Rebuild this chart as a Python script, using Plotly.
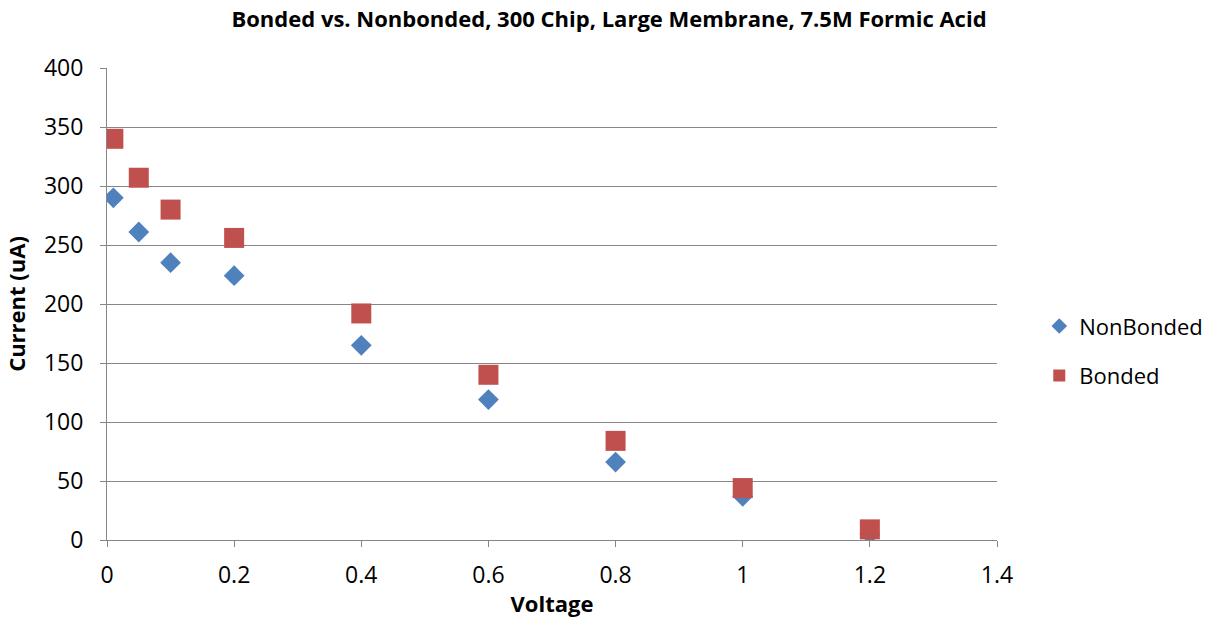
import plotly.graph_objects as go

voltage = [0.01, 0.05, 0.1, 0.2, 0.4, 0.6, 0.8, 1.0, 1.2]
nonbonded = [290, 261, 235, 224, 165, 119, 66, 37, 5]
bonded = [340, 307, 280, 256, 192, 140, 84, 44, 9]

FONT = "Open Sans"

fig = go.Figure()
fig.add_trace(go.Scatter(x=voltage, y=nonbonded, mode="markers", name="NonBonded",
                         legendgroup="a",
                         marker=dict(symbol="diamond", size=16, color="#4F81BD")))
fig.add_trace(go.Scatter(x=voltage, y=bonded, mode="markers", name="Bonded",
                         legendgroup="b",
                         marker=dict(symbol="square", size=20, color="#C0504D")))

fig.update_layout(
    width=1206, height=629,
    margin=dict(l=107, r=209, t=68, b=89, autoexpand=False),
    paper_bgcolor="white", plot_bgcolor="white",
    font=dict(family=FONT, size=21, color="black"),
    title=dict(text="<b>Bonded vs. Nonbonded, 300 Chip, Large Membrane, 7.5M Formic Acid</b>",
               x=0.505, xref="container", xanchor="center", y=0.97, yanchor="middle",
               font=dict(family=FONT, size=22, color="black")),
    legend=dict(x=1.0475, y=0.40, xanchor="left", yanchor="middle",
                font=dict(family=FONT, size=22), itemsizing="constant",
                tracegroupgap=18),
    showlegend=True,
)
fig.update_xaxes(range=[0, 1.4], tickvals=[0, 0.2, 0.4, 0.6, 0.8, 1.0, 1.2, 1.4],
                 ticktext=["0", "0.2", "0.4", "0.6", "0.8", "1", "1.2", "1.4"],
                 showgrid=False, zeroline=False, showline=True, linecolor="#868686", linewidth=1,
                 ticks="outside", ticklen=6, tickcolor="#868686", automargin=False,
                 ticklabelstandoff=8,
                 title=dict(text="<b>Voltage</b>", font=dict(family=FONT, size=22), standoff=8),
                 tickfont=dict(family=FONT, size=23))
fig.update_yaxes(range=[0, 400], dtick=50, showgrid=True, gridcolor="#868686", gridwidth=1,
                 zeroline=False, showline=True, linecolor="#868686", linewidth=1,
                 ticks="outside", ticklen=6, tickcolor="#868686", automargin=False,
                 ticklabelstandoff=12,
                 title=dict(text="<b>Current (uA)</b>", font=dict(family=FONT, size=22), standoff=12),
                 tickfont=dict(family=FONT, size=23))

fig.write_html("out.html", config={"displayModeBar": False},
               post_script="document.body.style.margin='0';document.body.style.overflow='hidden';")
